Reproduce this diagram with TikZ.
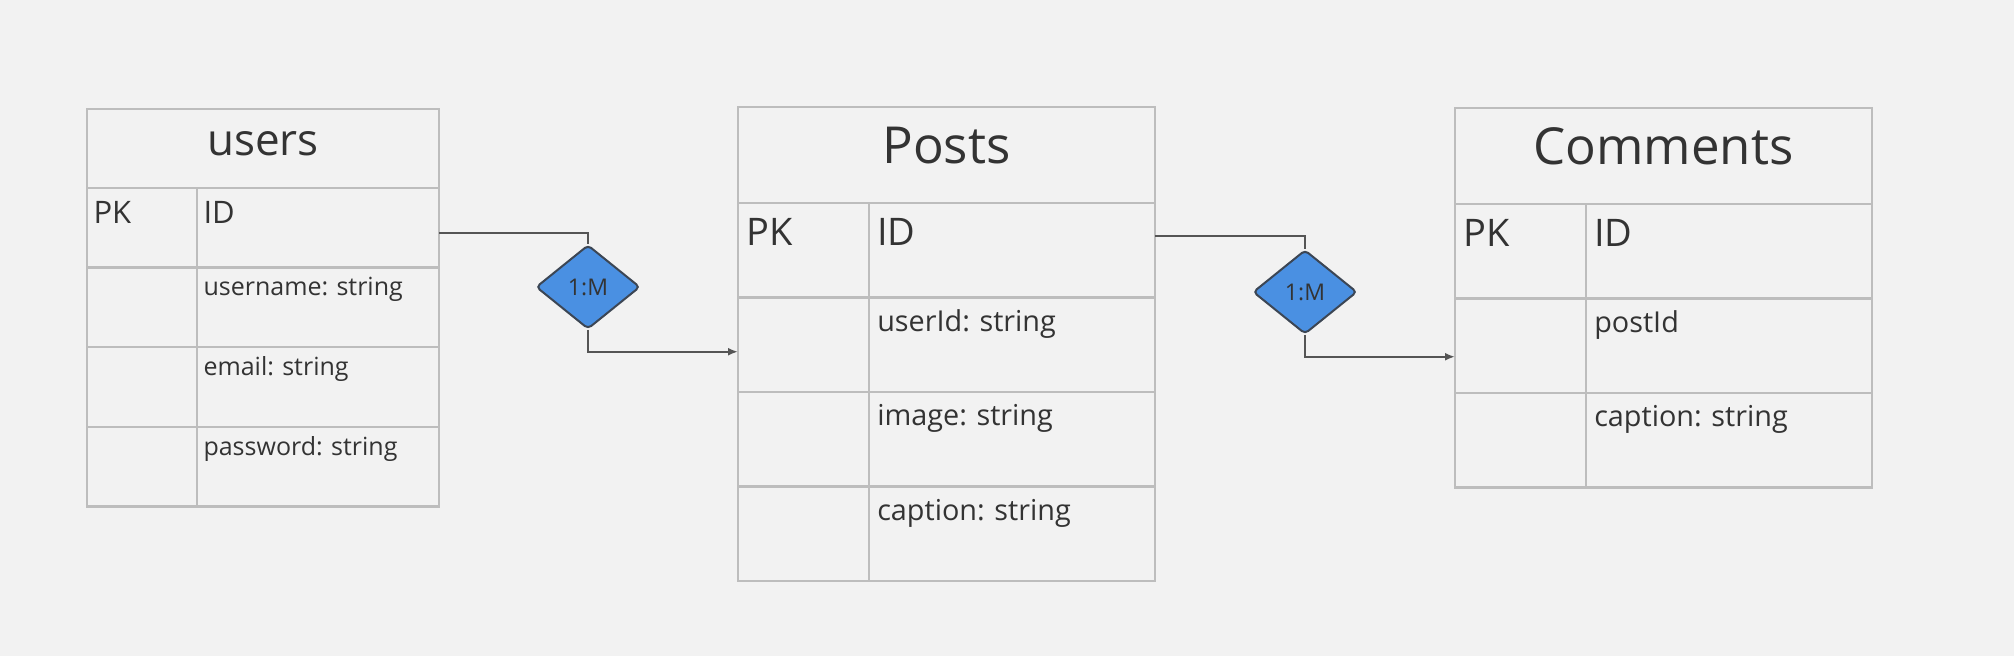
\documentclass[tikz,border=0pt]{standalone}
\usepackage{fontspec}
\setmainfont{Open Sans}
\frenchspacing
\usetikzlibrary{shapes.geometric,arrows.meta,positioning}
\definecolor{canvas}{HTML}{F2F2F2}
\definecolor{gridline}{HTML}{BDBDBD}
\definecolor{inkgray}{HTML}{333333}
\definecolor{relblue}{HTML}{4A90E2}
\definecolor{reledge}{HTML}{3C4654}
\definecolor{linkgray}{HTML}{555555}
\tikzset{
    cell/.style={draw=gridline, line width=1.2pt, anchor=north west, outer sep=0pt,
        inner ysep=0pt, align=left, text=inkgray},
    smallhead/.style={cell, align=center, inner xsep=0pt, text width=176pt,
        font=\fontsize{22}{26}\selectfont, text height=23.5pt, text depth=16pt},
    smallkeycol/.style={text width=48.5pt, inner xsep=3.25pt},
    smallfieldcol/.style={text width=114.5pt, inner xsep=3.25pt},
    smallkey/.style={cell, font=\fontsize{15.5}{18}\selectfont, text height=17.9pt, text depth=21.9pt},
    smallfield/.style={cell, font=\fontsize{12.5}{15}\selectfont, text height=14.2pt, text depth=25.6pt},
    bighead/.style={cell, align=center, inner xsep=0pt, text width=208.5pt,
        font=\fontsize{25.5}{30}\selectfont, text height=28.4pt, text depth=19.6pt},
    bigkeycol/.style={text width=57.25pt, inner xsep=4.125pt},
    bigfieldcol/.style={text width=134.75pt, inner xsep=4.125pt},
    bigkey/.style={cell, font=\fontsize{19}{22}\selectfont, text height=21.5pt, text depth=25.75pt},
    bigfield/.style={cell, font=\fontsize{14.4}{17}\selectfont, text height=17pt, text depth=30.25pt},
    rel/.style={diamond, draw=reledge, fill=relblue, line width=1pt, aspect=1.24,
        minimum width=52pt, minimum height=42pt, inner sep=0pt, rounded corners=2pt,
        text=inkgray, font=\fontsize{11.5}{13}\selectfont},
    link/.style={draw=linkgray, line width=1pt},
    tip/.style={-{Latex[length=5pt,width=4pt]}}
}
\begin{document}
\begin{tikzpicture}[x=0.5pt, y=-0.5pt]
    \fill[canvas] (0,0) rectangle (2014,656);
    \useasboundingbox (0,0) rectangle (2014,656);

    \node[smallhead] (uHead) at (87,109) {users};
    \node[smallkey, smallkeycol] (uPk1) at (uHead.south west) {PK};
    \node[smallkey, smallfieldcol] (uId) at (uPk1.north east) {ID};
    \node[smallfield, smallkeycol] (uPk2) at (uPk1.south west) {};
    \node[smallfield, smallfieldcol] (uName) at (uPk2.north east) {username: string};
    \node[smallfield, smallkeycol] (uPk3) at (uPk2.south west) {};
    \node[smallfield, smallfieldcol] (uMail) at (uPk3.north east) {email: string};
    \node[smallfield, smallkeycol] (uPk4) at (uPk3.south west) {};
    \node[smallfield, smallfieldcol] (uPass) at (uPk4.north east) {password: string};

    \node[bighead] (pHead) at (738,107) {Posts};
    \node[bigkey, bigkeycol] (pPk1) at (pHead.south west) {PK};
    \node[bigkey, bigfieldcol] (pId) at (pPk1.north east) {ID};
    \node[bigfield, bigkeycol] (pPk2) at (pPk1.south west) {};
    \node[bigfield, bigfieldcol] (pUser) at (pPk2.north east) {userId: string};
    \node[bigfield, bigkeycol] (pPk3) at (pPk2.south west) {};
    \node[bigfield, bigfieldcol] (pImage) at (pPk3.north east) {image: string};
    \node[bigfield, bigkeycol] (pPk4) at (pPk3.south west) {};
    \node[bigfield, bigfieldcol] (pCaption) at (pPk4.north east) {caption: string};

    \node[bighead] (cHead) at (1455,108) {Comments};
    \node[bigkey, bigkeycol] (cPk1) at (cHead.south west) {PK};
    \node[bigkey, bigfieldcol] (cId) at (cPk1.north east) {ID};
    \node[bigfield, bigkeycol] (cPk2) at (cPk1.south west) {};
    \node[bigfield, bigfieldcol] (cPost) at (cPk2.north east) {postId};
    \node[bigfield, bigkeycol] (cPk3) at (cPk2.south west) {};
    \node[bigfield, bigfieldcol] (cCaption) at (cPk3.north east) {caption: string};

    \node[rel] (userPost) at (588,287) {1:M};
    \node[rel] (postComment) at (1305,292) {1:M};

    \draw[link] ([yshift=-2.5pt]uId.east) -| (userPost.north);
    \draw[link, tip] (userPost.south) |- ([yshift=-3.5pt]pPk2.west);
    \draw[link] ([yshift=7pt]pId.east) -| (postComment.north);
    \draw[link, tip] (postComment.south) |- ([yshift=-5.5pt]cPk2.west);
\end{tikzpicture}
\end{document}
